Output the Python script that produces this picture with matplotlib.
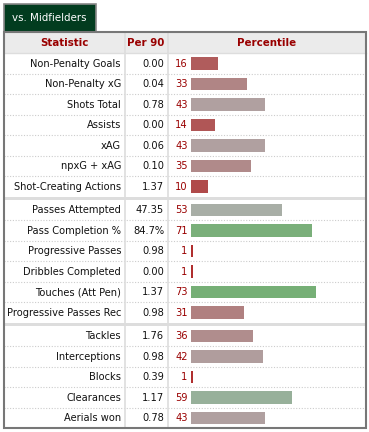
import matplotlib
matplotlib.use("Agg")
import matplotlib.pyplot as plt
from matplotlib.patches import Rectangle
import numpy as np

# ---- data ----
tab_label = "vs. Midfielders"
headers = ["Statistic", "Per 90", "Percentile"]
stats = ["Non-Penalty Goals", "Non-Penalty xG", "Shots Total", "Assists", "xAG",
         "npxG + xAG", "Shot-Creating Actions",
         "Passes Attempted", "Pass Completion %", "Progressive Passes",
         "Dribbles Completed", "Touches (Att Pen)", "Progressive Passes Rec",
         "Tackles", "Interceptions", "Blocks", "Clearances", "Aerials won"]
per90 = ["0.00", "0.04", "0.78", "0.00", "0.06", "0.10", "1.37",
         "47.35", "84.7%", "0.98", "0.00", "1.37", "0.98",
         "1.76", "0.98", "0.39", "1.17", "0.78"]
percentile = [16, 33, 43, 14, 43, 35, 10,
              53, 71, 1, 1, 73, 31,
              36, 42, 1, 59, 43]
groups = [0] * 7 + [1] * 6 + [2] * 5

# ---- style ----
W, H = 369, 432
FONT = "DejaVu Sans"
FS = 7.1
DARKRED = "#990000"
TXT = "#111111"

stops = [(0, (176, 44, 44)), (16, (176, 92, 92)), (33, (176, 133, 133)),
         (43, (176, 160, 160)), (50, (174, 172, 170)), (53, (168, 174, 166)),
         (59, (151, 176, 154)), (71, (122, 175, 122)), (100, (70, 170, 70))]


def pct_color(p):
    xs = [s[0] for s in stops]
    rgb = [np.interp(p, xs, [s[1][k] for s in stops]) / 255 for k in range(3)]
    return tuple(rgb)


fig = plt.figure(figsize=(W / 100, H / 100), dpi=100)
ax = fig.add_axes([0, 0, 1, 1])
ax.set_xlim(0, W)
ax.set_ylim(H, 0)
ax.axis("off")

# layout
x_left, x_right = 3.5, 365.5
col1, col2 = 124.5, 167.5
head_top, head_bot = 32, 53
row_h, sep = 20.5, 3.0
n = len(stats)
row_top = np.array([head_bot + i * row_h + g * sep for i, g in enumerate(groups)])
row_mid = row_top + row_h / 2
table_bot = row_top[-1] + row_h

# tab
ax.add_patch(Rectangle((3.5, 3.5), 92, head_top - 3.5, facecolor="#023c1f",
                       edgecolor="#888888", lw=1.2, zorder=2))
ax.text(49.5, 18, tab_label, color="white", fontsize=7.4, family=FONT,
        ha="center", va="center", zorder=3)

# header
ax.add_patch(Rectangle((x_left, head_top), x_right - x_left, head_bot - head_top,
                       facecolor="#ebebeb", edgecolor="none", zorder=1))
ax.plot([x_left, x_right], [head_bot, head_bot], color="#dddddd", lw=1, zorder=2)
hx = [(x_left + col1) / 2, (col1 + col2) / 2, (col2 + x_right) / 2]
for h, xx in zip(headers, hx):
    ax.text(xx, (head_top + head_bot) / 2 + 0.5, h, color=DARKRED, fontsize=7.4,
            fontweight="bold", family=FONT, ha="center", va="center", zorder=3)

# group separators
for i in range(1, n):
    if groups[i] != groups[i - 1]:
        ax.add_patch(Rectangle((x_left, row_top[i] - sep), x_right - x_left, sep,
                               facecolor="#dddddd", edgecolor="none", zorder=1))
    else:
        ax.plot([x_left, x_right], [row_top[i], row_top[i]], color="#cccccc",
                lw=0.8, ls=(0, (1, 1.5)), zorder=1)

# column lines
for cx in (col1, col2):
    ax.plot([cx, cx], [head_top, table_bot], color="#dddddd", lw=1.2, zorder=1)

# outer border
ax.add_patch(Rectangle((x_left, head_top), x_right - x_left, table_bot - head_top,
                       facecolor="none", edgecolor="#777777", lw=1.5, zorder=4))

# text
for i in range(n):
    ax.text(col1 - 3.5, row_mid[i] + 0.5, stats[i], color=TXT, fontsize=FS,
            family=FONT, ha="right", va="center", zorder=3)
    ax.text(col2 - 3.5, row_mid[i] + 0.5, per90[i], color=TXT, fontsize=FS,
            family=FONT, ha="right", va="center", zorder=3)
    ax.text(187.5, row_mid[i] + 0.5, str(percentile[i]), color=DARKRED, fontsize=FS,
            family=FONT, ha="right", va="center", zorder=3)

# bars in their own axes: x in percentile units, y in the same pixel rows
bar_x0, bar_w100 = 191, 171
bx = fig.add_axes([bar_x0 / W, 0, bar_w100 / W, 1])
bx.set_xlim(0, 100)
bx.set_ylim(H, 0)
bx.axis("off")
bx.patch.set_alpha(0)
bx.barh(row_mid, percentile, height=12.5, left=0,
        color=[pct_color(p) for p in percentile], zorder=3)

fig.savefig("out.png", dpi=100)
